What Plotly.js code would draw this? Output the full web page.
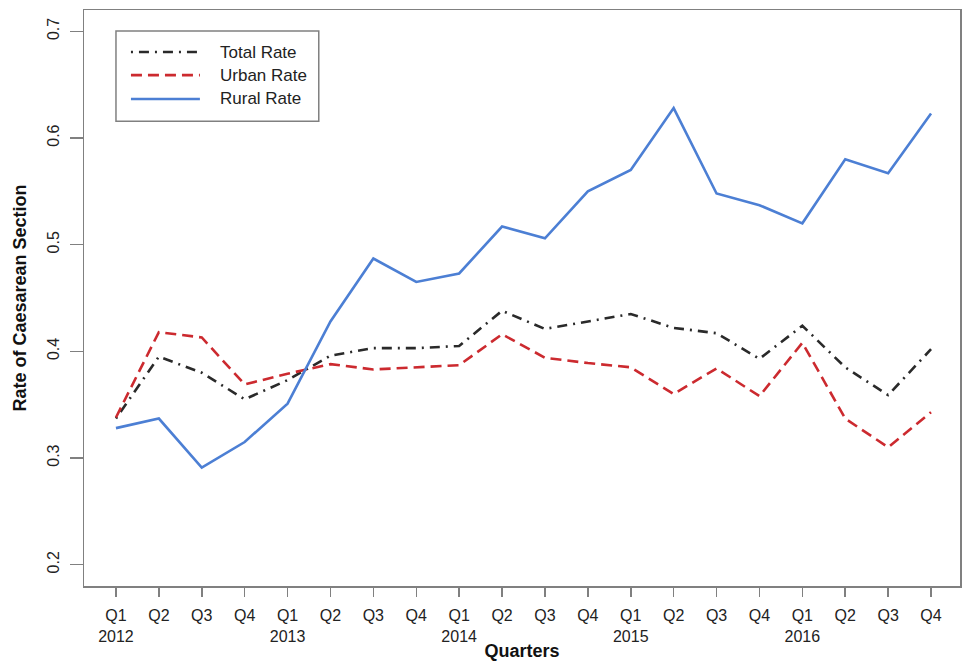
<!DOCTYPE html>
<html>
<head>
<meta charset="utf-8">
<script src="https://cdn.plot.ly/plotly-3.0.1.min.js"></script>
<style>html,body{margin:0;padding:0;background:#fff;}#chart{width:963px;height:661px;}</style>
</head>
<body>
<div id="chart"></div>
<script>
// Tick labels
var quarterLabels = ["Q1","Q2","Q3","Q4","Q1","Q2","Q3","Q4","Q1","Q2","Q3","Q4","Q1","Q2","Q3","Q4","Q1","Q2","Q3","Q4"];
var yearLabels    = ["2012","","","","2013","","","","2014","","","","2015","","","","2016","","",""];
var quarterIndex  = [0,1,2,3,4,5,6,7,8,9,10,11,12,13,14,15,16,17,18,19];
var yTicks        = [0.2,0.3,0.4,0.5,0.6,0.7];

// Series values
var seriesNames = ["Total Rate","Urban Rate","Rural Rate"];
var totalRate = [0.337,0.395,0.380,0.355,0.373,0.396,0.403,0.403,0.405,0.438,0.421,0.428,0.435,0.422,0.417,0.393,0.424,0.385,0.359,0.402];
var urbanRate = [0.338,0.418,0.413,0.369,0.379,0.388,0.383,0.385,0.387,0.416,0.394,0.389,0.385,0.360,0.384,0.358,0.408,0.337,0.310,0.343];
var ruralRate = [0.328,0.337,0.291,0.315,0.351,0.428,0.487,0.465,0.473,0.517,0.506,0.550,0.570,0.628,0.548,0.537,0.520,0.580,0.567,0.623];

var tickText = quarterLabels.map(function(q,i){ return q + "<br>" + (yearLabels[i] || " "); });

var styles = [
  {color: "#2a2a2a", width: 2.6, dash: "2px,6px,10px,6px"},
  {color: "#cc2a2f", width: 2.6, dash: "11px,6px"},
  {color: "#4c7fd4", width: 2.6, dash: "solid"}
];
var values = [totalRate, urbanRate, ruralRate];

var traces = values.map(function(v, i){
  return {x: quarterIndex, y: v, name: seriesNames[i], type: "scatter", mode: "lines",
          line: styles[i], showlegend: false};
});

// Manual legend (R-style box)
var legRows = [0.927, 0.887, 0.8455];
var shapes = [{type: "rect", xref: "paper", yref: "paper", x0: 0.0365, x1: 0.268, y0: 0.807, y1: 0.9635,
               line: {color: "#808080", width: 1.5}, fillcolor: "#fff", layer: "above"}];
var annotations = [];
legRows.forEach(function(yy, i){
  shapes.push({type: "line", xref: "paper", yref: "paper", x0: 0.0536, x1: 0.1323, y0: yy, y1: yy,
               line: {color: styles[i].color, width: styles[i].width, dash: styles[i].dash}, layer: "above"});
  annotations.push({xref: "paper", yref: "paper", x: 0.1528, y: yy, xanchor: "left", yanchor: "middle",
                    text: seriesNames[i], showarrow: false, font: {size: 17, color: "#222"}});
});

var layout = {
  width: 963, height: 661,
  margin: {l: 84, r: 3, t: 10, b: 75},
  paper_bgcolor: "#fff", plot_bgcolor: "#fff",
  font: {family: "Liberation Sans, Arial, sans-serif", size: 16, color: "#222"},
  showlegend: false,
  shapes: shapes,
  annotations: annotations,
  xaxis: {
    range: [-0.745, 19.675], tickmode: "array", tickvals: quarterIndex, ticktext: tickText,
    showgrid: false, zeroline: false, showline: true, mirror: true, linecolor: "#808080", linewidth: 1.5,
    ticks: "outside", ticklen: 9, tickcolor: "#808080", tickwidth: 1.5, ticklabelstandoff: 5,
    tickfont: {size: 16, color: "#222"},
    title: {text: "<b>Quarters</b>", font: {size: 18, color: "#111"}, standoff: 0}
  },
  yaxis: {
    range: [0.18, 0.72], tickmode: "array", tickvals: yTicks,
    ticktext: yTicks.map(function(t){ return t.toFixed(1); }),
    showgrid: false, zeroline: false, showline: true, mirror: true, linecolor: "#808080", linewidth: 1.5,
    ticks: "outside", ticklen: 13, tickcolor: "#808080", tickwidth: 1.5, tickangle: -90, ticklabelstandoff: 4,
    tickfont: {size: 16, color: "#222"},
    title: {text: "<b>Rate of Caesarean Section</b>", font: {size: 18, color: "#111"}, standoff: 14}
  }
};

Plotly.newPlot("chart", traces, layout, {displayModeBar: false, staticPlot: true});
</script>
</body>
</html>
